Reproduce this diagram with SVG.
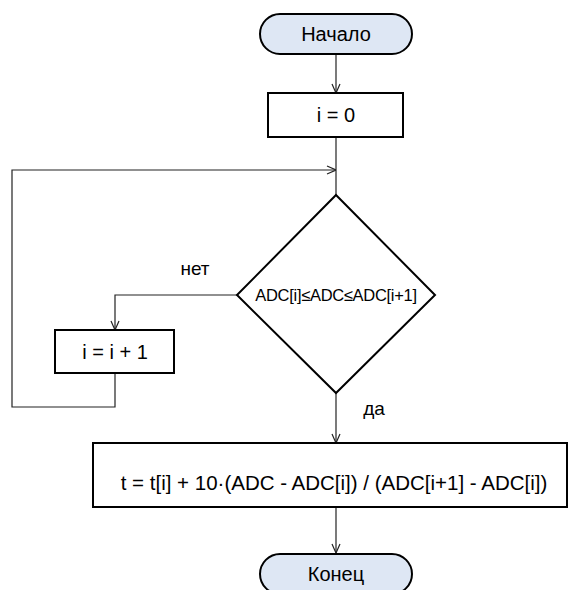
<svg xmlns="http://www.w3.org/2000/svg" width="570" height="590" viewBox="0 0 570 590">
<defs>
<style>
.term{fill:#dee7f4;stroke:#000;stroke-width:2}
.box{fill:#fff;stroke:#000;stroke-width:2}
.t{font-family:"Liberation Sans",Arial,sans-serif;font-size:20px;fill:#000;text-anchor:middle;dominant-baseline:central}
.c{fill:none;stroke:#222;stroke-width:1.2}
</style>
<marker id="ah" viewBox="0 0 10 10" refX="10" refY="5" markerWidth="10" markerHeight="10" markerUnits="userSpaceOnUse" orient="auto">
<path d="M1,1 L10,5 L1,9" fill="none" stroke="#222" stroke-width="1.2"/>
</marker>
</defs>
<rect width="570" height="590" fill="#fff"/>
<g id="connectors">
<path class="c" d="M336,54 V93" marker-end="url(#ah)"/>
<path class="c" d="M336,137 V195"/>
<path class="c" d="M115,373 V407 H12 V170 H336" marker-end="url(#ah)"/>
<path class="c" d="M237,295 H115 V330" marker-end="url(#ah)"/>
<path class="c" d="M336,393 V443" marker-end="url(#ah)"/>
<path class="c" d="M336,507 V553" marker-end="url(#ah)"/>
<text class="t" x="195" y="268" style="font-size:19px">нет</text>
<text class="t" x="374" y="408" style="font-size:19px">да</text>
</g>
<g id="start">
<rect class="term" x="260" y="14" width="152" height="40" rx="20"/>
<text class="t" x="336" y="34">Начало</text>
</g>
<g id="init">
<rect class="box" x="268" y="93" width="135" height="44"/>
<text class="t" x="336" y="115">i = 0</text>
</g>
<g id="cond">
<polygon class="box" points="336,195 435,295 336,393 237,295"/>
<text class="t" x="336" y="295" style="font-size:16.5px;letter-spacing:-0.3px">ADC[i]≤ADC≤ADC[i+1]</text>
</g>
<g id="inc">
<rect class="box" x="55" y="330" width="119" height="43"/>
<text class="t" x="115" y="352">i = i + 1</text>
</g>
<g id="calc">
<rect class="box" x="93" y="443" width="474" height="64"/>
<text class="t" x="334" y="482" style="font-size:20.5px">t = t[i] + 10·(ADC - ADC[i]) / (ADC[i+1] - ADC[i])</text>
</g>
<g id="end">
<rect class="term" x="260" y="554" width="152" height="40" rx="20"/>
<text class="t" x="336" y="574">Конец</text>
</g>
</svg>
